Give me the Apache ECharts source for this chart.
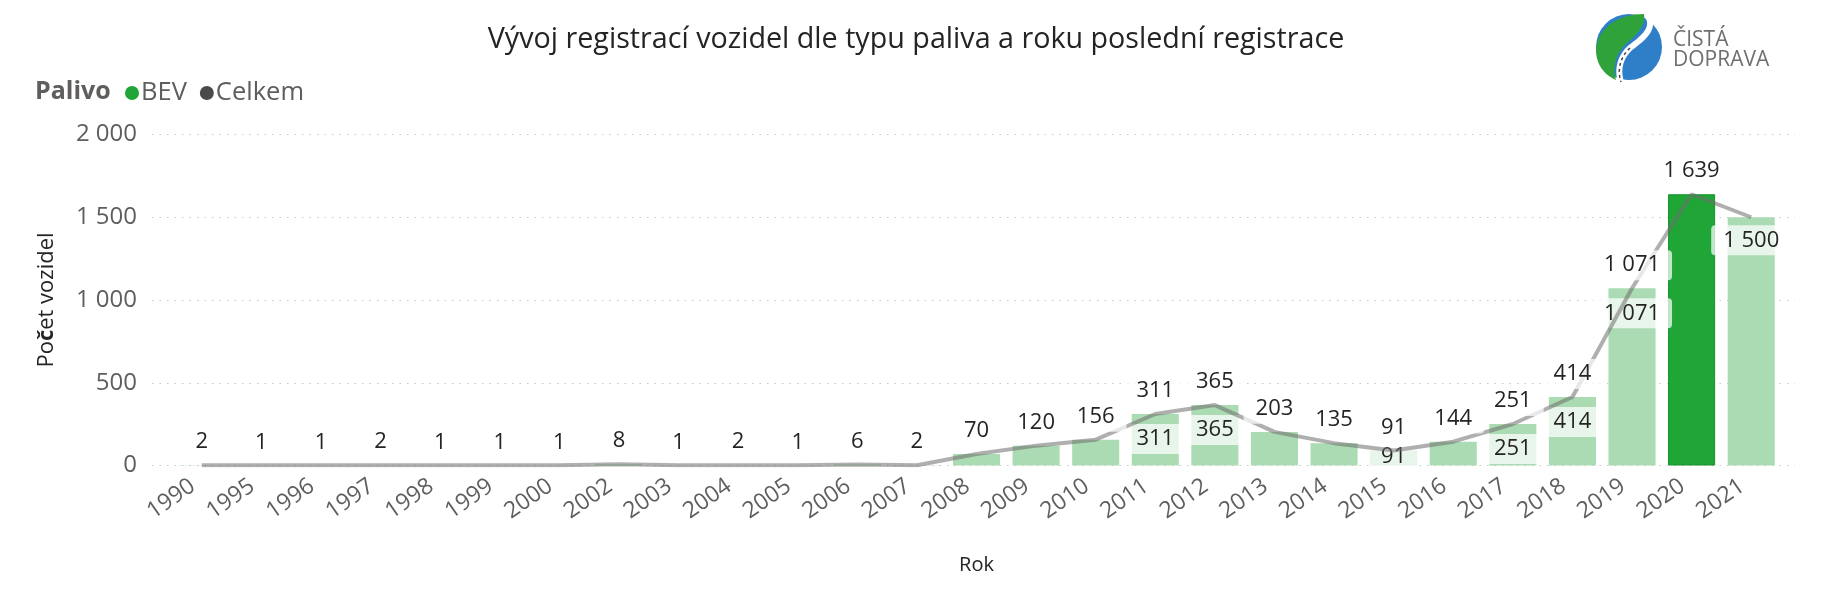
<!DOCTYPE html>
<html>
<head>
<meta charset="utf-8">
<script src="https://cdn.jsdelivr.net/npm/echarts@6/dist/echarts.min.js"></script>
<style>html,body{margin:0;padding:0;background:#fff}#c{width:1834px;height:590px}</style>
</head>
<body>
<div id="c"></div>
<script>
const years = ['1990','1995','1996','1997','1998','1999','2000','2002','2003','2004','2005','2006','2007','2008','2009','2010','2011','2012','2013','2014','2015','2016','2017','2018','2019','2020','2021'];
const bevValues = [2,1,1,2,1,1,1,8,1,2,1,6,2,70,120,156,311,365,203,135,91,144,251,414,1071,1639,1500];
const totalValues = [2,1,1,2,1,1,1,8,1,2,1,6,2,70,120,156,311,365,203,135,91,144,251,414,1071,1639,1500];
const yTicks = [0, 500, 1000, 1500, 2000];
const highlightYear = '2020';
const barLabelYears = ['2011','2012','2015','2017','2018','2019'];
const lineLabelBelowYears = ['2021'];

const FONT = "'Segoe UI','Open Sans','Noto Sans',sans-serif";
const fmt = n => String(n).replace(/\B(?=(\d{3})+(?!\d))/g, ' ');
const GREEN = '#1FA637';
const LIGHT = '#ABDBB2';
const LABEL_BG = 'rgba(255,255,255,0.72)';

// logo helper: sample cubic bezier segments into points
function bez(start, segs) {
  const pts = [start.slice()];
  let p0 = start;
  segs.forEach(s => {
    const [c1x, c1y, c2x, c2y, ex, ey] = s;
    for (let t = 0.1; t <= 1.0001; t += 0.1) {
      const u = 1 - t;
      pts.push([
        u*u*u*p0[0] + 3*u*u*t*c1x + 3*u*t*t*c2x + t*t*t*ex,
        u*u*u*p0[1] + 3*u*u*t*c1y + 3*u*t*t*c2y + t*t*t*ey
      ]);
    }
    p0 = [ex, ey];
  });
  return pts;
}
const leafPts = bez([1644, 14], [[1612,14,1596,34,1596,50],[1596,64,1604,75,1616,80],[1612,66,1616,52,1628,42],[1638,34,1646,24,1644,14]]);
const roadPts = bez([1648, 16], [[1656,30,1640,40,1630,48],[1620,57,1617,70,1621,82]]);
const dashPts = bez([1630, 48], [[1620,57,1617,70,1621,82]]);

const barData = years.map((y, i) => {
  const d = { value: bevValues[i], itemStyle: { color: LIGHT } };
  if (y === highlightYear) d.itemStyle = { color: GREEN, borderColor: '#17922E', borderWidth: 1 };
  if (barLabelYears.includes(y)) {
    d.label = { show: true };
    if (bevValues[i] < 150) { d.label.position = 'insideBottom'; d.label.distance = -6; }
  }
  return d;
});
const lineData = years.map((y, i) => {
  const d = { value: totalValues[i] };
  if (lineLabelBelowYears.includes(y)) {
    d.label = { position: 'bottom', distance: 8 };
  }
  return d;
});

const chart = echarts.init(document.getElementById('c'), null, { renderer: 'canvas' });
chart.setOption({
  animation: false,
  textStyle: { fontFamily: FONT },
  title: {
    text: 'Vývoj registrací vozidel dle typu paliva a roku poslední registrace',
    left: 911, top: 20, textAlign: 'center',
    textStyle: { fontFamily: FONT, fontSize: 28.7, fontWeight: 'normal', color: '#252423' }
  },
  legend: {
    left: 120, top: 75, itemWidth: 14, itemHeight: 14, itemGap: 13,
    icon: 'circle',
    textStyle: { fontFamily: FONT, fontSize: 25.5, color: '#605E5C', padding: [0, 0, 0, -3] },
    data: ['BEV', 'Celkem']
  },
  grid: [
    { left: 172, right: 53, top: 134.5, bottom: 124.5 },
    { left: 152, right: 39, top: 134.5, bottom: 124.5 }
  ],
  xAxis: [
    {
      type: 'category', gridIndex: 0, data: years,
      axisLine: { show: false }, axisTick: { show: false },
      axisLabel: { rotate: 35, fontSize: 23, color: '#605E5C', margin: 12, padding: [0, 11, 0, 0], interval: 0, fontFamily: FONT },
      name: 'Rok', nameLocation: 'middle', nameGap: 90,
      nameTextStyle: { fontSize: 20, color: '#252423', fontFamily: FONT }
    },
    { type: 'value', gridIndex: 1, show: false, min: 0, max: 1 }
  ],
  yAxis: [
    { type: 'value', gridIndex: 0, min: 0, max: 2000, interval: 500, show: false },
    {
      type: 'value', gridIndex: 1, min: 0, max: 2000, interval: 500,
      axisLine: { show: false }, axisTick: { show: false },
      axisLabel: { fontSize: 24, color: '#605E5C', margin: 15, formatter: v => fmt(v), fontFamily: FONT },
      splitLine: { show: true, lineStyle: { color: '#C8C8C8', width: 1, type: [1.5, 6] } },
      name: 'Po{b|č}et vozidel', nameLocation: 'middle', nameGap: 94, nameRotate: 90,
      nameTextStyle: { fontSize: 22, color: '#252423', fontFamily: FONT, rich: { b: { fontSize: 22, fontWeight: 'bold', color: '#252423', fontFamily: FONT } } }
    }
  ],
  series: [
    {
      name: 'BEV', type: 'bar', xAxisIndex: 0, yAxisIndex: 0,
      barCategoryGap: '21%', color: GREEN,
      itemStyle: { color: GREEN },
      label: {
        show: false, position: 'insideTop', distance: 10,
        fontSize: 22, lineHeight: 22, color: '#252423', fontFamily: FONT,
        backgroundColor: LABEL_BG, padding: [4, 12], borderRadius: 4,
        formatter: p => fmt(p.value)
      },
      emphasis: { disabled: true },
      data: barData, z: 2
    },
    {
      name: 'Celkem', type: 'line', xAxisIndex: 0, yAxisIndex: 0,
      showSymbol: true, symbol: 'circle', symbolSize: 0.1, color: '#4A4A4A',
      itemStyle: { color: '#4A4A4A' },
      lineStyle: { color: 'rgba(110,110,110,0.55)', width: 4 },
      label: {
        show: true, position: 'top', distance: 8,
        fontSize: 22, lineHeight: 22, color: '#252423', fontFamily: FONT,
        backgroundColor: LABEL_BG, padding: [4, 12], borderRadius: 4,
        formatter: p => fmt(p.value)
      },
      emphasis: { disabled: true },
      labelLayout: { hideOverlap: false },
      data: lineData, z: 3
    }
  ],
  graphic: [
    { type: 'text', left: 35, top: 79, style: { text: 'Palivo', font: "bold 25px " + FONT, fill: '#605E5C' } },
    { type: 'circle', shape: { cx: 1629, cy: 47, r: 33 }, style: { fill: '#2E7FC8' } },
    { type: 'polygon', shape: { points: leafPts }, style: { fill: '#2FA23A' } },
    { type: 'polyline', shape: { points: roadPts }, style: { stroke: '#fff', lineWidth: 6, fill: null } },
    { type: 'polyline', shape: { points: dashPts }, style: { stroke: '#444', lineWidth: 1.5, lineDash: [3, 3], fill: null } },
    { type: 'text', left: 1673, top: 30, style: { text: 'ČISTÁ', font: "21px " + FONT, fill: '#6F6F6F' } },
    { type: 'text', left: 1673, top: 50, style: { text: 'DOPRAVA', font: "21px " + FONT, fill: '#6F6F6F' } }
  ]
});
</script>
</body>
</html>
